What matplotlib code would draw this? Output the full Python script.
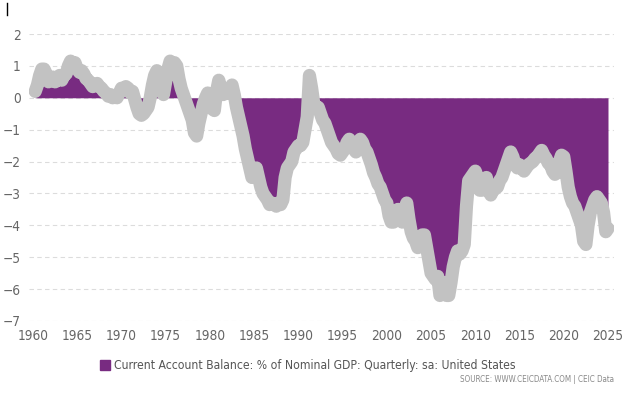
import matplotlib
matplotlib.use('Agg')
import matplotlib.pyplot as plt
import matplotlib.patches as mpatches
from matplotlib.lines import Line2D
import numpy as np

plt.rcParams['font.family'] = ['DejaVu Sans']
plt.rcParams['font.stretch'] = 'condensed'

# quarterly values, % of GDP, 1960Q1 .. 2024Q4
years = list(range(1960, 2025))
ca_balance = [
    0.2, 0.4, 0.7, 0.9,        # 1960
    0.9, 0.75, 0.5, 0.6,       # 1961
    0.65, 0.5, 0.6, 0.7,       # 1962
    0.55, 0.7, 0.75, 1.0,      # 1963
    1.15, 1.0, 1.1, 0.9,       # 1964
    0.8, 0.85, 0.75, 0.6,      # 1965
    0.55, 0.45, 0.35, 0.4,     # 1966
    0.45, 0.35, 0.3, 0.2,      # 1967
    0.15, 0.05, 0.1, 0.0,      # 1968
    0.05, 0.0, 0.15, 0.3,      # 1969
    0.25, 0.35, 0.3, 0.15,     # 1970
    0.2, -0.05, -0.3, -0.5,    # 1971
    -0.55, -0.5, -0.4, -0.3,   # 1972
    0.0, 0.4, 0.7, 0.85,       # 1973
    0.5, 0.2, 0.1, 0.5,        # 1974
    0.9, 1.15, 1.05, 1.1,      # 1975
    1.0, 0.6, 0.3, 0.1,        # 1976
    -0.1, -0.3, -0.5, -0.7,    # 1977
    -1.1, -1.2, -0.8, -0.5,    # 1978
    -0.2, 0.0, 0.15, 0.0,      # 1979
    -0.35, -0.4, 0.2, 0.55,    # 1980
    0.3, 0.1, 0.2, 0.15,       # 1981
    0.25, 0.4, 0.1, -0.3,      # 1982
    -0.6, -0.9, -1.2, -1.6,    # 1983
    -1.9, -2.2, -2.5, -2.3,    # 1984
    -2.2, -2.5, -2.8, -3.0,    # 1985
    -3.1, -3.2, -3.35, -3.3,   # 1986
    -3.35, -3.4, -3.3, -3.35,  # 1987
    -3.2, -2.5, -2.2, -2.1,    # 1988
    -2.0, -1.7, -1.6, -1.5,    # 1989
    -1.5, -1.4, -1.0, -0.6,    # 1990
    0.7, 0.3, -0.2, -0.3,      # 1991
    -0.3, -0.5, -0.7, -0.8,    # 1992
    -1.0, -1.2, -1.4, -1.5,    # 1993
    -1.6, -1.75, -1.8, -1.7,   # 1994
    -1.6, -1.4, -1.3, -1.45,   # 1995
    -1.6, -1.7, -1.5, -1.3,    # 1996
    -1.4, -1.6, -1.7, -1.9,    # 1997
    -2.1, -2.35, -2.5, -2.7,   # 1998
    -2.8, -3.0, -3.2, -3.3,    # 1999
    -3.7, -3.9, -3.9, -3.6,    # 2000
    -3.5, -3.7, -3.9, -3.5,    # 2001
    -3.3, -3.8, -4.2, -4.4,    # 2002
    -4.5, -4.7, -4.6, -4.3,    # 2003
    -4.3, -4.7, -5.1, -5.5,    # 2004
    -5.6, -5.7, -5.6, -6.2,    # 2005
    -6.1, -5.8, -6.2, -6.2,    # 2006
    -5.8, -5.3, -5.0, -4.8,    # 2007
    -4.9, -4.8, -4.6, -3.4,    # 2008
    -2.6, -2.5, -2.4, -2.3,    # 2009
    -2.5, -2.9, -2.9, -2.6,    # 2010
    -2.5, -2.9, -3.05, -2.9,   # 2011
    -2.85, -2.8, -2.6, -2.5,   # 2012
    -2.3, -2.1, -1.9, -1.7,    # 2013
    -1.85, -2.1, -2.2, -2.1,   # 2014
    -2.2, -2.3, -2.2, -2.1,    # 2015
    -2.05, -2.0, -1.9, -1.85,  # 2016
    -1.75, -1.65, -1.8, -1.9,  # 2017
    -2.05, -2.1, -2.3, -2.4,   # 2018
    -2.35, -2.0, -1.8, -1.85,  # 2019
    -2.3, -2.8, -3.1, -3.3,    # 2020
    -3.4, -3.6, -3.8, -4.0,    # 2021
    -4.5, -4.6, -4.0, -3.6,    # 2022
    -3.4, -3.2, -3.1, -3.2,    # 2023
    -3.3, -3.6, -4.2, -4.1,    # 2024
]
# quarter-end dates
dates = [y + q / 4 for y in years for q in range(1, 5)]

x_ticks = list(range(1960, 2026, 5))
y_ticks = list(range(-7, 3))

PURPLE = "#782B81"
GREY = "#C2C2C2"

fig = plt.figure(figsize=(6.38, 3.95), dpi=100)
fig.patch.set_facecolor("white")
ax = fig.add_axes([29 / 638, 1 - 321 / 395, 585 / 638, 287 / 395])

vals = np.array(ca_balance)
ax.fill_between(dates, vals, 0, color=PURPLE, linewidth=0, zorder=2)
ax.plot(dates, vals, color=GREY, linewidth=9.5, solid_capstyle="round",
        solid_joinstyle="round", zorder=3)

ax.set_xlim(1960 - 4 / 8.846, 2025 + 6 / 8.846)
ax.set_ylim(-7, 2)
ax.set_xticks(x_ticks)
ax.set_yticks(y_ticks)
ax.tick_params(length=0, labelsize=9.8, labelcolor="#666666", pad=6)
ax.yaxis.grid(True, color="#DCDCDC", linestyle=(0, (4, 3)), linewidth=0.8, zorder=0)
ax.set_axisbelow(True)
for s in ax.spines.values():
    s.set_visible(False)

# legend
fig.patches.append(mpatches.Rectangle((100 / 638, 1 - 370 / 395), 10 / 638, 10 / 395,
                                      transform=fig.transFigure, color=PURPLE))
fig.text(114 / 638, 1 - 365 / 395,
         "Current Account Balance: % of Nominal GDP: Quarterly: sa: United States",
         fontsize=8.7, color="#555555", va="center", ha="left")
fig.text(614 / 638, 1 - 380 / 395, "SOURCE: WWW.CEICDATA.COM | CEIC Data",
         fontsize=5.8, color="#888888", va="center", ha="right")

# small mark at top-left corner
fig.lines.append(Line2D([6.5 / 638, 6.5 / 638], [1 - 3 / 395, 1 - 15 / 395],
                        transform=fig.transFigure, color="black", linewidth=1))

plt.savefig("out.png", dpi=100, facecolor="white")
